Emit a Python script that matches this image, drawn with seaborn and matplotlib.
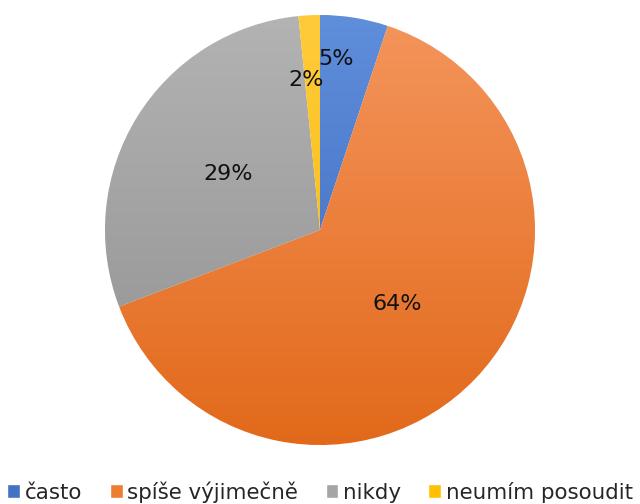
import numpy as np
import matplotlib
matplotlib.use("Agg")
import matplotlib.pyplot as plt
import matplotlib.colors as mcolors
import seaborn as sns

# data (share of answers, %)
kategorie = ["často", "spíše výjimečně", "nikdy", "neumím posoudit"]
podily = [5.1, 64.1, 29.2, 1.6]

# Excel-like colours: light (top) and dark (bottom) end of each gradient
barvy_svetle = ["#5F8EDB", "#F4955C", "#B3B3B3", "#FFCB3A"]
barvy_tmave = ["#3B66BD", "#E2691A", "#909090", "#F5B800"]
barvy = sns.blend_palette(["#4472C4", "#ED7D31", "#A5A5A5", "#FFC000"], 4)

sns.set_theme(style="white")
plt.rcParams["font.family"] = ["DejaVu Sans"]

fig = plt.figure(figsize=(6.4, 5.04), dpi=100)
ax = fig.add_axes([105 / 640, 59 / 504, 430 / 640, 430 / 504])

wedges, texty, autotexty = ax.pie(
    podily, colors=barvy, startangle=90, counterclock=False,
    autopct="%.0f%%", pctdistance=0.5, radius=1,
    wedgeprops=dict(linewidth=0.8, edgecolor="white"),
    textprops=dict(fontsize=16, color="#111111"))

# vertical gradient inside each slice
for w, c1, c2 in zip(wedges, barvy_svetle, barvy_tmave):
    cmap = mcolors.LinearSegmentedColormap.from_list("g", [c2, c1])
    grad = np.linspace(0, 1, 256).reshape(-1, 1)
    im = ax.imshow(grad, cmap=cmap, extent=[-1, 1, -1, 1], origin="lower",
                   aspect="auto", zorder=w.get_zorder() + 0.1)
    im.set_clip_path(w)

# label placement: (fraction along the slice from its start, distance)
umisteni = [(0.29, 0.8), (0.5, 0.5), (0.5, 0.5), (0.1, 0.7)]
for w, t, (f, d) in zip(wedges, autotexty, umisteni):
    uhel = np.deg2rad(w.theta2 - f * (w.theta2 - w.theta1))
    t.set_position((d * np.cos(uhel), d * np.sin(uhel)))
    t.set_zorder(5)

ax.set_xlim(-1, 1)
ax.set_ylim(-1, 1)
ax.set_aspect("equal")
ax.axis("off")

handles = [plt.Rectangle((0, 0), 1, 1, facecolor=c) for c in barvy]
fig.legend(handles, kategorie, loc="center", bbox_to_anchor=(0.5, 0.024),
           ncol=4, frameon=False, fontsize=15.4, handlelength=0.6,
           handleheight=0.6, handletextpad=0.2, columnspacing=1.3,
           borderpad=0, borderaxespad=0)

fig.savefig("out.png", dpi=100)
